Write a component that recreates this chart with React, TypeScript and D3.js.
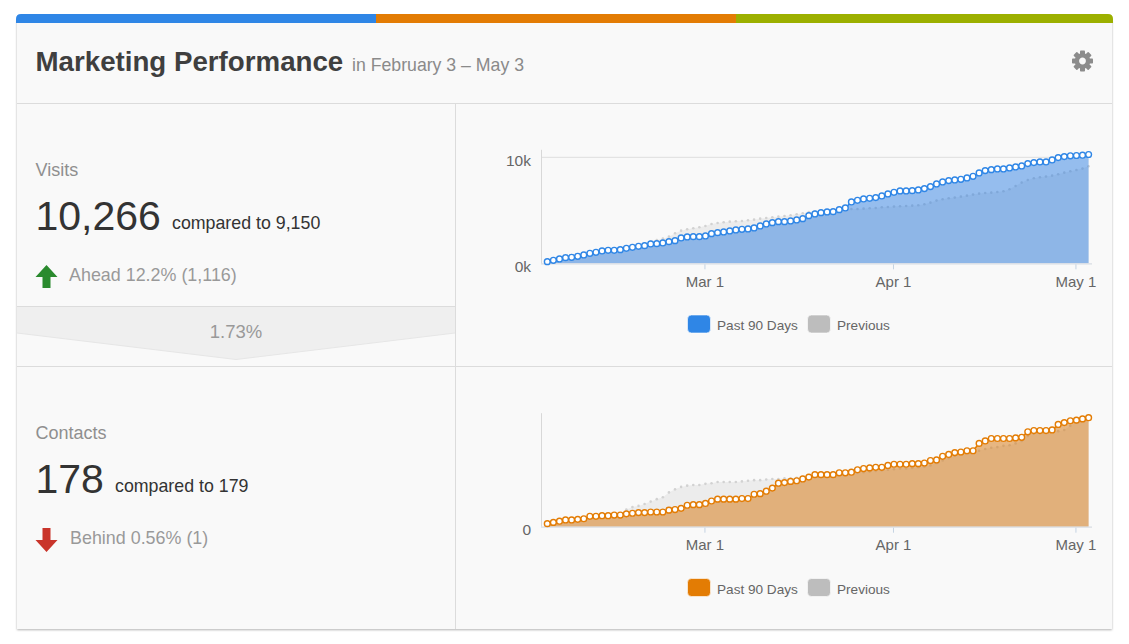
import React, { useEffect, useRef } from "react";
import * as d3 from "d3";

const width = 1129;
const height = 644;

const topBars = ["#2f86e6", "#e37c04", "#9cb000"];
const xTicks = [new Date(2015, 2, 1), new Date(2015, 3, 1), new Date(2015, 4, 1)];
const startDate = new Date(2015, 1, 3);
const endDate = new Date(2015, 4, 3);

const visits = [
  157, 283, 409, 535, 566, 660, 786, 943, 1038, 1164,
  1227, 1227, 1289, 1415, 1510, 1604, 1667, 1824, 1856, 1918,
  2044, 2139, 2390, 2485, 2516, 2516, 2579, 2799, 2893, 2956,
  3051, 3145, 3208, 3239, 3334, 3522, 3711, 3837, 3931, 3931,
  3994, 4089, 4214, 4497, 4655, 4780, 4843, 4875, 5063, 5221,
  5787, 5944, 6070, 6133, 6196, 6353, 6542, 6699, 6825, 6825,
  6856, 6919, 7045, 7234, 7485, 7674, 7800, 7863, 7925, 8051,
  8208, 8523, 8743, 8837, 8900, 8900, 8995, 9089, 9183, 9404,
  9498, 9561, 9561, 9750, 9970, 10064, 10140, 10170, 10200, 10266,
];

const visitsPrev = [
  126, 252, 377, 503, 566, 660, 755, 881, 1006, 1101,
  1195, 1227, 1321, 1510, 1604, 1761, 1887, 2044, 2202, 2327,
  2516, 2831, 3082, 3208, 3302, 3397, 3522, 3711, 3805, 3868,
  3931, 3963, 3994, 4057, 4120, 4214, 4277, 4340, 4403, 4466,
  4529, 4623, 4718, 4843, 4906, 4969, 5001, 5032, 5063, 5095,
  5126, 5126, 5158, 5189, 5221, 5284, 5315, 5347, 5378, 5409,
  5441, 5472, 5567, 5724, 5913, 6038, 6133, 6196, 6290, 6384,
  6479, 6573, 6636, 6667, 6730, 6793, 6982, 7296, 7611, 7863,
  8020, 8114, 8177, 8271, 8397, 8554, 8680, 8806, 8932, 9150,
];

const contacts = [
  5, 7, 9, 11, 11, 12, 13, 17, 17, 18,
  18, 19, 19, 21, 22, 23, 23, 24, 24, 24,
  27, 28, 30, 35, 36, 36, 38, 42, 45, 45,
  45, 45, 46, 46, 53, 54, 58, 63, 71, 72,
  74, 75, 78, 81, 85, 85, 85, 85, 88, 88,
  89, 93, 95, 96, 97, 97, 100, 102, 102, 102,
  103, 103, 104, 108, 109, 115, 118, 121, 122, 124,
  124, 136, 140, 144, 144, 144, 144, 145, 146, 155,
  157, 157, 157, 158, 167, 170, 173, 174, 176, 178,
];

const contactsPrev = [
  4, 7, 9, 10, 11, 12, 13, 16, 17, 18,
  18, 19, 20, 28, 32, 34, 37, 41, 45, 48,
  56, 61, 65, 67, 68, 68, 70, 71, 73, 73,
  73, 73, 74, 75, 76, 76, 77, 78, 78, 79,
  79, 80, 81, 82, 84, 84, 84, 85, 85, 86,
  87, 88, 89, 90, 91, 92, 93, 94, 95, 95,
  96, 97, 98, 100, 104, 108, 112, 116, 118, 120,
  122, 124, 127, 129, 130, 132, 133, 136, 140, 148,
  152, 153, 154, 155, 156, 158, 165, 170, 175, 179,
];

const x = d3.scaleTime().domain([startDate, endDate]).range([547.3, 1088.6]);
const dateOf = (i: number) => d3.timeDay.offset(startDate, i);

type ChartProps = {
  values: number[];
  prev: number[];
  yMax: number;
  yTicks: number[];
  yFormat: (v: number) => string;
  baseY: number;
  topValueY: number;
  color: string;
  areaFill: string;
};

function Chart({ values, prev, yMax, yTicks, yFormat, baseY, topValueY, color, areaFill }: ChartProps) {
  const xAxisRef = useRef<SVGGElement>(null);
  const yAxisRef = useRef<SVGGElement>(null);

  const y = d3.scaleLinear().domain([0, yMax]).range([baseY, topValueY]);

  const area = d3
    .area<number>()
    .x((d, i) => x(dateOf(i)))
    .y0(baseY)
    .y1(d => y(d));
  const line = d3
    .line<number>()
    .x((d, i) => x(dateOf(i)))
    .y(d => y(d));

  useEffect(() => {
    const xAxis = d3
      .axisBottom(x)
      .tickValues(xTicks)
      .tickSize(5)
      .tickPadding(7)
      .tickFormat(d => d3.timeFormat("%b %-d")(d as Date));
    const gx = d3.select(xAxisRef.current!).call(xAxis);
    gx.select(".domain").remove();
    gx.selectAll(".tick line").attr("stroke", "#c5d3e2");
    gx.selectAll("text")
      .attr("fill", "#666")
      .attr("font-size", 15)
      .attr("font-family", "Liberation Sans");

    const yAxis = d3
      .axisLeft(y)
      .tickValues(yTicks)
      .tickSize(0)
      .tickPadding(10)
      .tickFormat(d => yFormat(d as number));
    const gy = d3.select(yAxisRef.current!).call(yAxis);
    gy.select(".domain").remove();
    gy.selectAll("text")
      .attr("fill", "#666")
      .attr("font-size", 15.5)
      .attr("font-family", "Liberation Sans")
      .attr("dy", "0.5em");
  }, []);

  return (
    <g>
      {yTicks
        .filter(t => t > 0)
        .map(t => (
          <line key={t} x1={541.5} x2={1090} y1={y(t)} y2={y(t)} stroke="#dedede" strokeWidth={1} />
        ))}
      <path d={area(prev) || ""} fill="#bbb" fillOpacity={0.2} />
      {prev.map((d, i) => (
        <circle key={i} cx={x(dateOf(i))} cy={y(d)} r={1.3} fill="#d2d2d2" />
      ))}
      <path d={area(values) || ""} fill={areaFill} />
      <line x1={541.5} x2={541.5} y1={baseY - 113.5} y2={baseY} stroke="#d8d8d8" strokeWidth={1} />
      <line x1={541} x2={1092} y1={baseY + 0.5} y2={baseY + 0.5} stroke="#d8dde3" strokeWidth={1.2} />
      <g ref={xAxisRef} transform={`translate(-1,${baseY + 1})`} />
      <g ref={yAxisRef} transform="translate(541,0)" />
      <path d={line(values) || ""} fill="none" stroke={color} strokeWidth={1.5} />
      {values.map((d, i) => (
        <circle key={i} cx={x(dateOf(i))} cy={y(d)} r={2.9} fill="#fff" stroke={color} strokeWidth={1.4} />
      ))}
    </g>
  );
}

function Legend({ y, color }: { y: number; color: string }) {
  const text = { fontSize: 13.6, fill: "#666" };
  return (
    <g>
      <rect x={687.5} y={y} width={23} height={18} rx={4} fill={color} stroke="#fff" strokeOpacity={0.6} />
      <text x={717} y={y + 15} {...text}>
        Past 90 Days
      </text>
      <rect x={807.5} y={y} width={23} height={18} rx={4} fill="#bdbdbd" stroke="#fff" strokeOpacity={0.6} />
      <text x={837} y={y + 15} {...text}>
        Previous
      </text>
    </g>
  );
}

function Gear({ cx, cy }: { cx: number; cy: number }) {
  const teeth = d3.range(8).map(i => (i * 360) / 8);
  return (
    <g transform={`translate(${cx},${cy})`} fill="#8c8c8c">
      {teeth.map(a => (
        <rect key={a} x={-2.5} y={-10.5} width={5} height={5} rx={0.8} transform={`rotate(${a})`} />
      ))}
      <circle r={5.6} fill="none" stroke="#8c8c8c" strokeWidth={4.4} />
    </g>
  );
}

function Metric({
  top,
  label,
  value,
  compare,
  compareX,
  delta,
  up,
}: {
  top: number;
  label: string;
  value: string;
  compare: string;
  compareX: number;
  delta: string;
  up: boolean;
}) {
  const a = up ? "M46.5 265 L57.5 277 L50.5 277 L50.5 288 L42.5 288 L42.5 277 L35.5 277 Z" : "M46.5 552 L57.5 540 L50.5 540 L50.5 528 L42.5 528 L42.5 540 L35.5 540 Z";
  return (
    <g>
      <text x={35.5} y={top} fontSize={18} fill="#8f8f8f">
        {label}
      </text>
      <text x={35.5} y={top + 54} fontSize={41} fill="#333">
        {value}
      </text>
      <text x={compareX} y={top + 53} fontSize={17.8} fill="#333">
        {compare}
      </text>
      <path d={a} fill={up ? "#2a8a2e" : "#c9352b"} />
      <text x={up ? 69 : 70} y={top + 105} fontSize={17.9} fill="#999">
        {delta}
      </text>
    </g>
  );
}

export default function App() {
  const barEdges = [16, 376, 736, 1113];
  const bar = d3.range(3);
  return (
    <svg
      width={width}
      height={height}
      style={{ position: "absolute", left: 0, top: 0, background: "#fff" }}
      fontFamily="Liberation Sans"
    >
      <defs>
        <filter id="cardShadow" x="-2%" y="-2%" width="104%" height="104%">
          <feDropShadow dx="0" dy="1" stdDeviation="1.2" floodColor="#000" floodOpacity="0.3" />
        </filter>
        <clipPath id="topClip">
          <path d="M16 23 L16 19 Q16 14 21 14 L1108 14 Q1113 14 1113 19 L1113 23 Z" />
        </clipPath>
      </defs>

      <rect x={17} y={20} width={1095} height={609} fill="#f9f9f9" filter="url(#cardShadow)" />
      <g clipPath="url(#topClip)">
        {bar.map(i => (
          <rect key={i} x={barEdges[i]} y={14} width={barEdges[i + 1] - barEdges[i]} height={9} fill={topBars[i]} />
        ))}
      </g>

      <text x={35.5} y={71} fontSize={27.7} fontWeight="bold" fill="#3f3f3f">
        Marketing Performance
      </text>
      <text x={352} y={71} fontSize={17.7} fill="#8a8a8a">
        in February 3 – May 3
      </text>
      <Gear cx={1082.5} cy={61} />

      <line x1={17} x2={1112} y1={103.5} y2={103.5} stroke="#dcdcdc" />

      <path d="M17 306 L455 306 L455 333 L236 359.5 L17 333 Z" fill="#efefef" />
      <path d="M17 333 L236 359.5 L455 333" fill="none" stroke="#e6e6e6" />
      <line x1={17} x2={455} y1={306.5} y2={306.5} stroke="#dcdcdc" />
      <text x={236} y={338} fontSize={18.5} fill="#999" textAnchor="middle">
        1.73%
      </text>

      <line x1={17} x2={1112} y1={366.5} y2={366.5} stroke="#dcdcdc" />
      <line x1={455.5} x2={455.5} y1={103} y2={629} stroke="#dcdcdc" />

      <Metric top={176} label="Visits" value="10,266" compare="compared to 9,150" compareX={172} delta="Ahead 12.2% (1,116)" up />
      <Metric top={439} label="Contacts" value="178" compare="compared to 179" compareX={115} delta="Behind 0.56% (1)" up={false} />

      <Chart
        values={visits}
        prev={visitsPrev}
        yMax={10000}
        yTicks={[0, 10000]}
        yFormat={v => `${v / 1000}k`}
        baseY={263.3}
        topValueY={157.3}
        color="#2f86e6"
        areaFill="rgba(37,122,226,0.47)"
      />
      <Legend y={315} color="#2f86e6" />

      <Chart
        values={contacts}
        prev={contactsPrev}
        yMax={178}
        yTicks={[0]}
        yFormat={v => `${v}`}
        baseY={526.7}
        topValueY={417.7}
        color="#e37c04"
        areaFill="rgba(214,116,10,0.5)"
      />
      <Legend y={578.5} color="#e37c04" />
    </svg>
  );
}
